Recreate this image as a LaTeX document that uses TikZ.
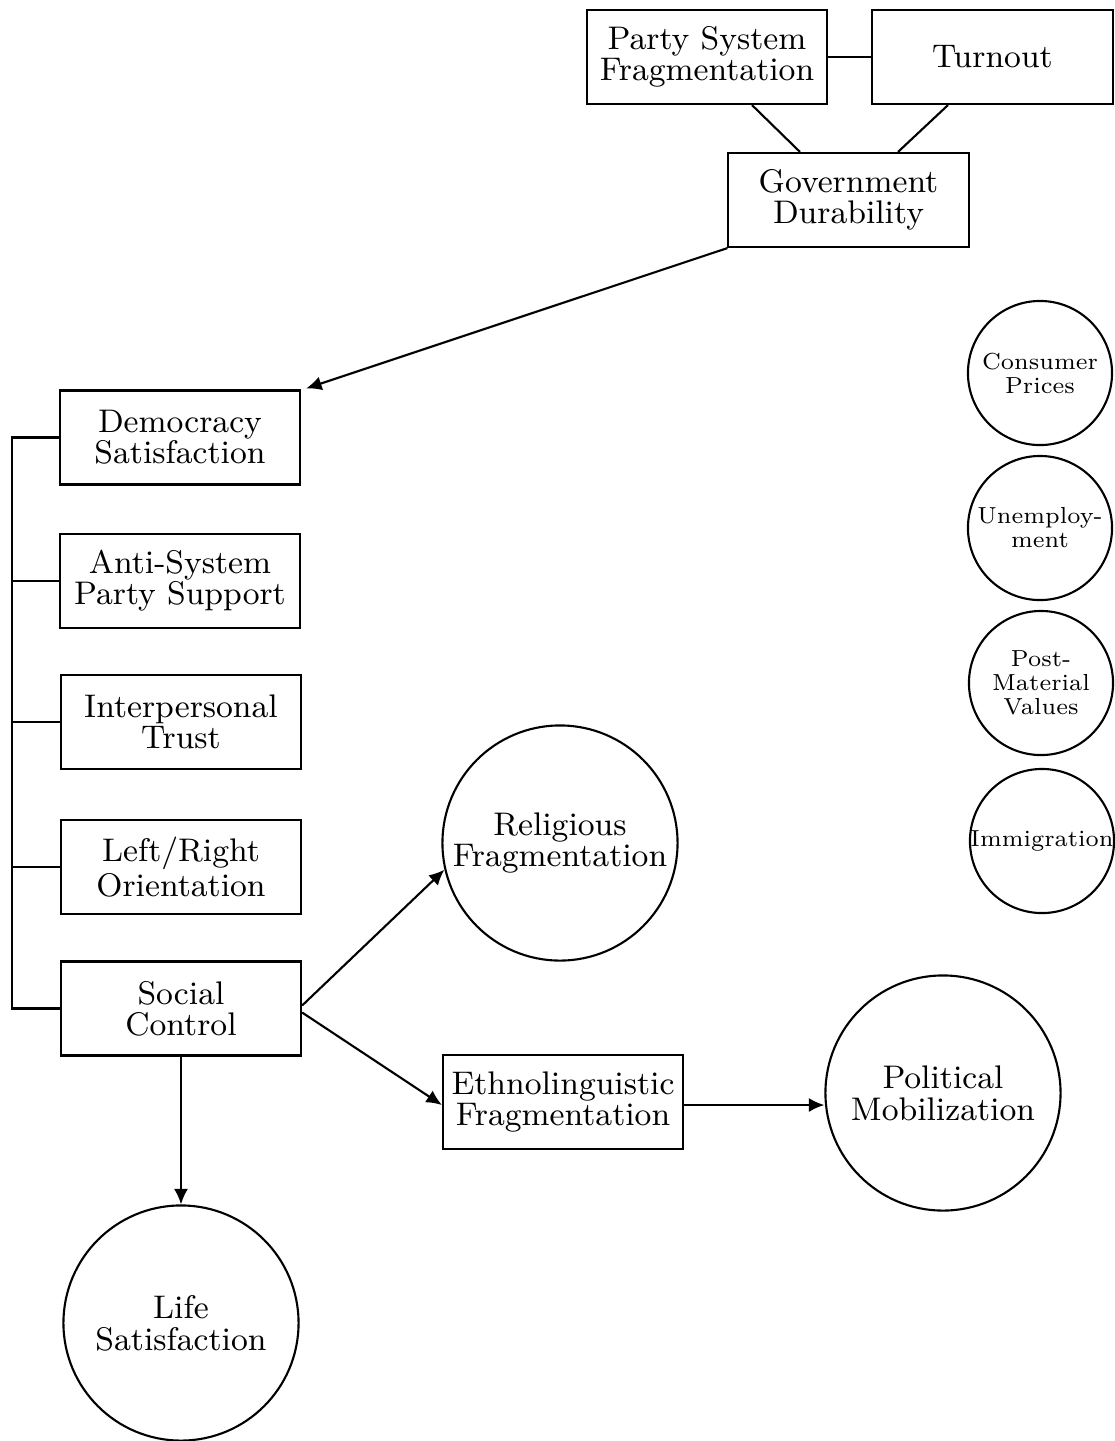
\documentclass[tikz,border=0pt]{standalone}
\usetikzlibrary{arrows.meta}
\begin{document}
\begin{tikzpicture}[x=0.01cm,y=-0.01cm,
  line width=0.6pt,
  box/.style={draw,rectangle,minimum width=2.4cm,minimum height=0.94cm,align=center,inner sep=0pt,font=\fontsize{9.3pt}{8.8pt}\selectfont},
  bigc/.style={draw,circle,minimum size=2.35cm,align=center,inner sep=0pt,font=\fontsize{9.3pt}{9pt}\selectfont},
  smallc/.style={draw,circle,minimum size=1.44cm,align=center,inner sep=0pt,font=\fontsize{6.6pt}{6.8pt}\selectfont},
  arr/.style={-{Latex[length=4.4pt,width=4pt]}}]
\useasboundingbox (0,0) rectangle (1114,1441);
% top boxes
\node[box] (party) at (707,57) {Party System\\Fragmentation};
\node[box] (turnout) at (992.5,57) {Turnout};
\node[box] (gov) at (848.5,200) {Government\\Durability};
% left column
\node[box] (demo) at (180,437.5) {Democracy\\Satisfaction};
\node[box] (anti) at (180,581) {Anti-System\\Party Support};
\node[box] (trust) at (181,722) {Interpersonal\\Trust};
\node[box] (lr) at (181,867) {Left/Right\\Orientation};
\node[box] (social) at (181,1008.5) {Social\\Control};
\node[box] (ethno) at (563,1102) {Ethnolinguistic\\Fragmentation};
% circles
\node[bigc] (relig) at (560,843) {Religious\\Fragmentation};
\node[bigc] (polit) at (943,1093) {Political\\Mobilization};
\node[bigc] (life) at (181,1323) {Life\\Satisfaction};
\node[smallc] (cpi) at (1040,373) {Consumer\\Prices};
\node[smallc] (unemp) at (1040,528) {Unemploy-\\ment};
\node[smallc] (postm) at (1041,683) {Post-\\Material\\Values};
\node[smallc] (immig) at (1042,841) {\makebox[0pt]{Immigration}};
% connectors top
\draw (party.east) -- (turnout.west);
\draw ([xshift=0.45cm]party.south) -- ([xshift=-0.485cm]gov.north);
\draw ([xshift=-0.445cm]turnout.south) -- ([xshift=0.495cm]gov.north);
\draw[arr] (gov.south west) -- ([xshift=0.05cm,yshift=0.01cm]demo.north east);
% bracket
\coordinate (bx) at (12,0);
\draw (demo.west) -- (demo.west -| bx) -- (social.west -| bx) -- (social.west);
\draw (anti.west) -- (anti.west -| bx);
\draw (trust.west) -- (trust.west -| bx);
\draw (lr.west) -- (lr.west -| bx);
% social control arrows
\draw[arr] ([yshift=0.03cm]social.east) -- (relig.193);
\draw[arr] ([yshift=-0.04cm]social.east) -- ([yshift=-0.03cm]ethno.west);
\draw[arr] (social.south) -- (life.north);
\draw[arr] ([yshift=-0.03cm]ethno.east) -- ([yshift=-0.03cm]ethno.east -| polit.west);
\end{tikzpicture}
\end{document}
